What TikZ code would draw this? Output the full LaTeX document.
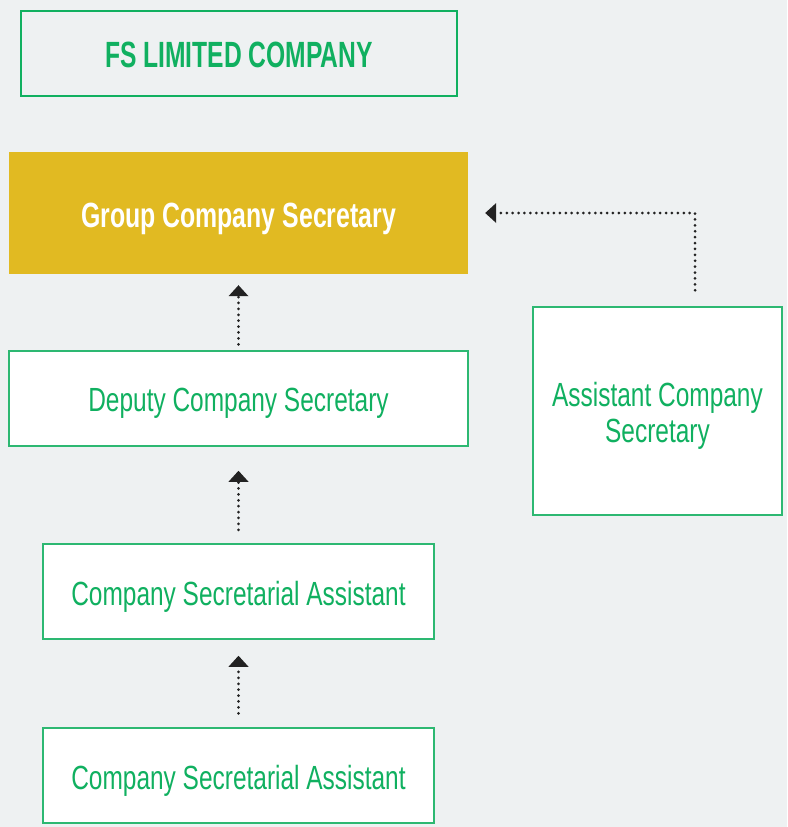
\documentclass[tikz,border=0pt]{standalone}
\usepackage{fontspec}
\usetikzlibrary{arrows.meta}
\newfontfamily\condreg{Liberation Sans}[FakeStretch=0.73]
\newfontfamily\condtitle{Liberation Sans Bold}[FakeStretch=0.675]
\newfontfamily\condgroup{Liberation Sans Bold}[FakeStretch=0.71]
\definecolor{bgc}{HTML}{EEF1F2}
\definecolor{fsgreen}{HTML}{10B060}
\definecolor{bordgreen}{HTML}{2DB872}
\definecolor{gold}{HTML}{E1BA22}
\definecolor{dotc}{HTML}{222222}
\tikzset{
  box/.style={draw=bordgreen, line width=1.5pt, fill=white, inner sep=0pt},
  boxtext/.style={anchor=base, inner sep=0pt, text=fsgreen, font=\condreg\fontsize{33.5}{36}\selectfont},
  titlebox/.style={draw=fsgreen, line width=2pt, fill=bgc, inner sep=0pt},
  titletext/.style={anchor=base, inner sep=0pt, text=fsgreen, font=\condtitle\fontsize{36.5}{38}\selectfont},
  goldbox/.style={fill=gold, inner sep=0pt},
  goldtext/.style={anchor=base, inner sep=0pt, text=white, font=\condgroup\fontsize{35}{37}\selectfont},
  conn/.style={draw=dotc, line width=3pt, line cap=round, dash pattern=on 0pt off 5.9pt,
    -{Triangle[width=20pt,length=11pt,line width=0pt]}}
}
\begin{document}
\begin{tikzpicture}[x=1pt,y=-1pt]
\useasboundingbox[fill=bgc] (0,0) rectangle (787,827);
\node[titlebox, minimum width=436pt, minimum height=85pt] (title) at (239,53.5) {};
\node[titletext] (titlet) at (239,67.7) {FS LIMITED COMPANY};
\node[goldbox, minimum width=459pt, minimum height=122pt] (gcs) at (238.5,213) {};
\node[goldtext] (gcst) at (238.5,227) {Group Company Secretary};
\node[box, minimum width=459pt, minimum height=95pt] (dep) at (238.5,398.5) {};
\node[boxtext] (dept) at (238.5,411) {Deputy Company Secretary};
\node[box, minimum width=249pt, minimum height=208pt] (acs) at (657.5,411) {};
\node[boxtext] (acst1) at (657.5,406.7) {Assistant Company};
\node[boxtext] (acst2) at (657.5,442.5) {Secretary};
\node[box, minimum width=391pt, minimum height=95pt] (csa1) at (238.5,591.5) {};
\node[boxtext] (csa1t) at (238.5,605) {Company Secretarial Assistant};
\node[box, minimum width=391pt, minimum height=95pt] (csa2) at (238.5,775.5) {};
\node[boxtext] (csa2t) at (238.5,789) {Company Secretarial Assistant};
\draw[conn] ([yshift=6pt]dep.north) -- ([yshift=-11pt]gcs.south);
\draw[conn] ([yshift=13.5pt]csa1.north) -- ([yshift=-24pt]dep.south);
\draw[conn] ([yshift=14pt]csa2.north) -- ([yshift=-16pt]csa1.south);
\draw[conn] ([xshift=37.5pt,yshift=16pt]acs.north) |- ([xshift=17pt]gcs.east);
\end{tikzpicture}
\end{document}
